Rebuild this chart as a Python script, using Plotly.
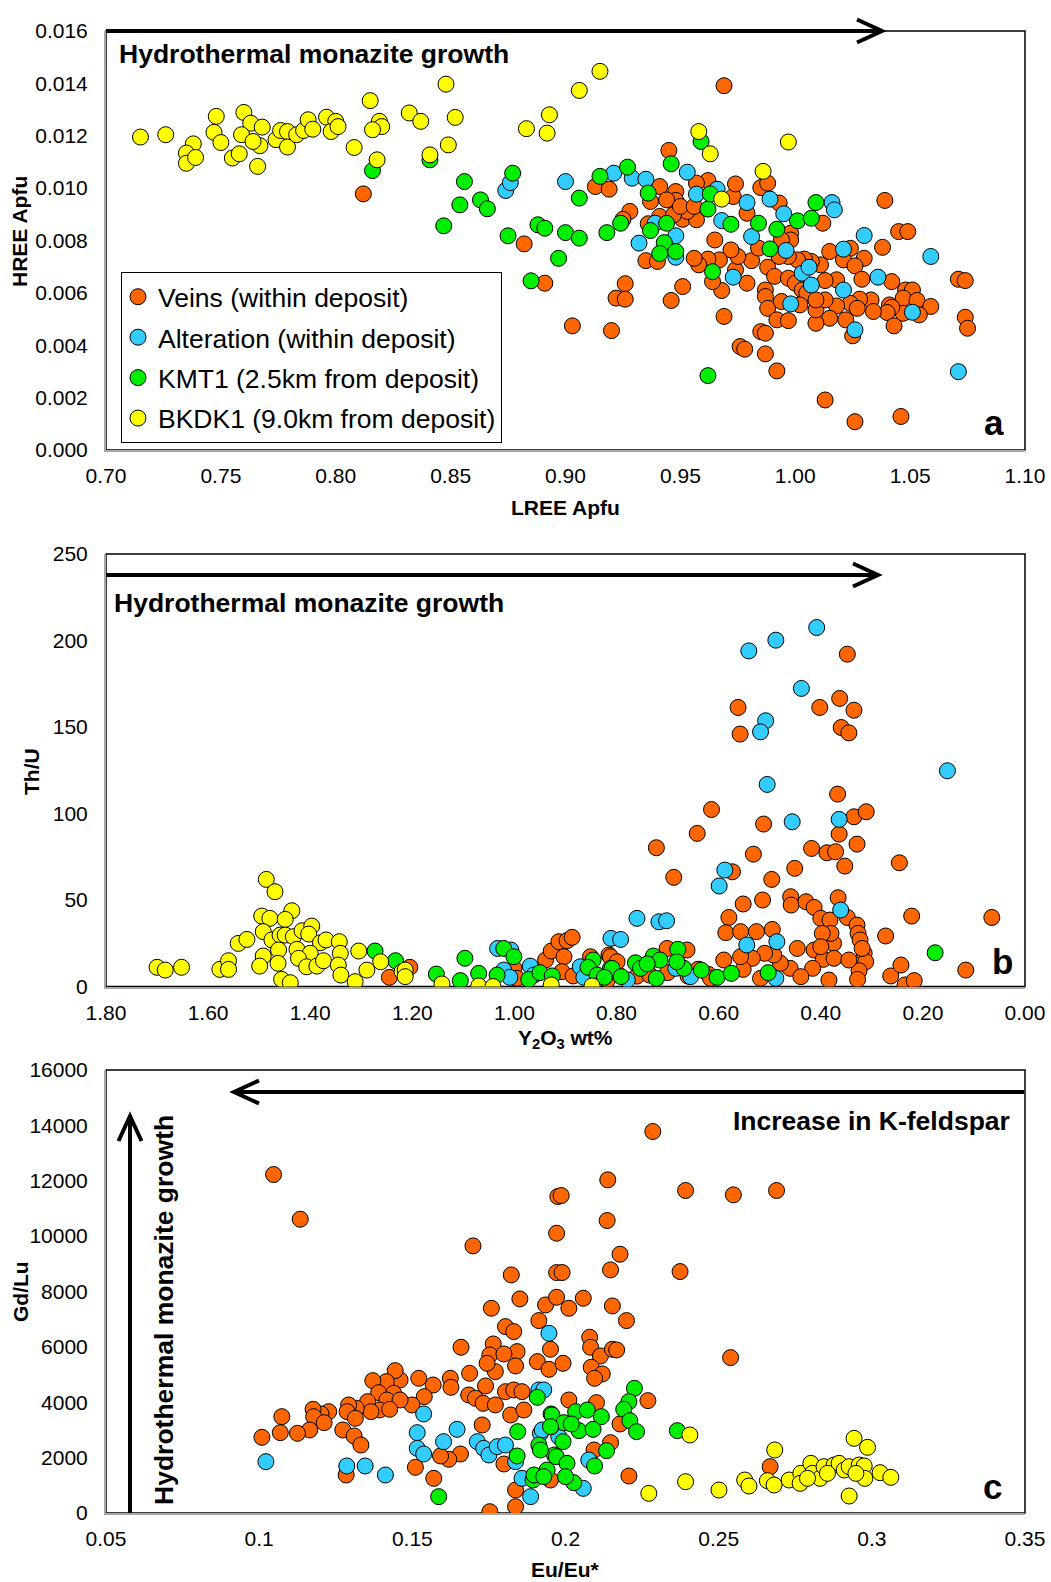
import plotly.graph_objects as go

W, H = 1051, 1582

# ---------------- data ----------------
series_names = ["Veins (within deposit)", "Alteration (within deposit)",
                "KMT1 (2.5km from deposit)", "BKDK1 (9.0km from deposit)"]
series_colors = ["#FF6600", "#33CCFF", "#00EE00", "#FFFF00"]

# Panel a: (LREE Apfu, HREE Apfu)
veins_a = [(0.812,0.00978),(0.882,0.00787),(0.891,0.00637),(0.969,0.01391),(0.945,0.01144),(0.913,0.01006),(0.919,0.00996),(0.928,0.00911),(0.925,0.00881),(0.941,0.01006),(0.937,0.00949),(0.948,0.00987),(0.948,0.00953),(0.951,0.00881),(0.957,0.00879),(0.962,0.01029),(0.957,0.01019),(0.953,0.00911),(0.944,0.00955),(0.973,0.00968),(0.974,0.01016),(0.985,0.01002),(0.988,0.01019),(0.979,0.00904),(0.993,0.00943),(0.998,0.00828),(0.998,0.00802),(1.012,0.00866),(1.039,0.00953),(1.045,0.00834),(1.049,0.00834),(1.038,0.00774),(1.015,0.00758),(1.024,0.0077),(1.030,0.00732),(1.021,0.00726),(1.026,0.00703),(1.029,0.00652),(1.042,0.00643),(1.048,0.00611),(1.051,0.00611),(1.047,0.0058),(1.053,0.00571),(1.059,0.00548),(1.054,0.00516),(1.047,0.00522),(1.041,0.00554),(1.042,0.00545),(1.040,0.00525),(1.043,0.00474),(1.033,0.00573),(1.034,0.00529),(1.028,0.00576),(1.024,0.0056),(1.027,0.00541),(1.025,0.00436),(1.022,0.00497),(1.018,0.0055),(1.015,0.00503),(1.009,0.00484),(1.009,0.00535),(1.013,0.00573),(1.018,0.0065),(1.013,0.00647),(1.011,0.00707),(1.007,0.0072),(1.004,0.00729),(1.001,0.00726),(0.997,0.00739),(0.993,0.00739),(0.988,0.00698),(0.991,0.00663),(0.997,0.00656),(1.000,0.00637),(1.003,0.00611),(1.005,0.00599),(1.002,0.00554),(1.009,0.00573),(0.987,0.00611),(0.987,0.00586),(0.988,0.00541),(0.994,0.00567),(0.992,0.00497),(0.997,0.00494),(0.985,0.00452),(0.987,0.00446),(0.976,0.00395),(0.978,0.00385),(0.987,0.00367),(0.992,0.00302),(1.013,0.00191),(1.026,0.00108),(1.046,0.00128),(1.071,0.00652),(1.074,0.00647),(1.074,0.00507),(1.075,0.00465),(0.969,0.0051),(0.979,0.00637),(0.974,0.00688),(0.981,0.00723),(0.975,0.00739),(0.972,0.00764),(0.967,0.00726),(0.968,0.00609),(0.964,0.00643),(0.965,0.00802),(0.962,0.00729),(0.958,0.00707),(0.956,0.00732),(0.951,0.00624),(0.946,0.00571),(0.926,0.00635),(0.922,0.0058),(0.926,0.00576),(0.903,0.00474),(0.920,0.00456),(0.935,0.00723),(0.940,0.0072),(0.936,0.00864),(0.941,0.00892),(0.947,0.00898),(0.950,0.0093),(0.956,0.0093),(0.984,0.00771),(0.994,0.00802)]
alteration_a = [(0.874,0.00991),(0.876,0.01021),(0.900,0.01025),(0.921,0.01057),(0.929,0.01038),(0.935,0.01034),(0.953,0.01061),(0.957,0.00977),(0.966,0.00996),(0.968,0.00876),(0.979,0.00945),(0.989,0.00958),(0.995,0.00902),(0.981,0.00815),(0.948,0.00818),(0.939,0.00866),(0.932,0.0079),(0.948,0.00736),(0.996,0.00762),(0.973,0.0066),(1.003,0.00675),(1.006,0.00698),(1.007,0.0063),(1.016,0.00945),(1.017,0.00917),(1.021,0.00767),(1.030,0.00819),(1.021,0.00611),(0.998,0.00558),(1.036,0.0066),(1.026,0.00459),(1.051,0.00526),(1.059,0.00739),(1.071,0.00299)]
kmt1_a = [(0.816,0.01067),(0.841,0.01108),(0.856,0.01025),(0.854,0.00936),(0.863,0.00955),(0.866,0.00921),(0.847,0.00856),(0.877,0.01057),(0.875,0.00818),(0.888,0.0086),(0.891,0.00847),(0.900,0.0083),(0.897,0.00732),(0.885,0.00646),(0.906,0.00809),(0.906,0.00962),(0.915,0.01045),(0.927,0.0108),(0.918,0.0083),(0.924,0.00866),(0.936,0.00981),(0.937,0.00838),(0.944,0.00866),(0.943,0.00792),(0.941,0.0075),(0.948,0.00758),(0.946,0.01093),(0.959,0.01178),(0.962,0.0092),(0.963,0.00978),(0.972,0.00862),(0.984,0.00866),(0.992,0.00843),(0.989,0.00768),(1.001,0.00875),(1.007,0.00885),(1.009,0.00945),(0.964,0.00681),(0.962,0.00284)]
bkdk1_a = [(0.715,0.01195),(0.726,0.01204),(0.738,0.01169),(0.735,0.01134),(0.735,0.01095),(0.739,0.01117),(0.748,0.01274),(0.747,0.01213),(0.750,0.01174),(0.760,0.01289),(0.763,0.01248),(0.759,0.01204),(0.755,0.01115),(0.758,0.01131),(0.766,0.01083),(0.767,0.01162),(0.764,0.01178),(0.768,0.01233),(0.774,0.01185),(0.776,0.0122),(0.779,0.01216),(0.779,0.01157),(0.783,0.01204),(0.786,0.0122),(0.788,0.01261),(0.790,0.01225),(0.796,0.01271),(0.800,0.01255),(0.798,0.01216),(0.801,0.01235),(0.808,0.01155),(0.815,0.01334),(0.819,0.01255),(0.820,0.01235),(0.816,0.01223),(0.818,0.01108),(0.832,0.01287),(0.837,0.01255),(0.848,0.01397),(0.852,0.0127),(0.849,0.01165),(0.841,0.01127),(0.883,0.01227),(0.893,0.0128),(0.892,0.0121),(0.906,0.01373),(0.915,0.01446),(0.958,0.01216),(0.963,0.01131),(0.997,0.01176),(0.986,0.01064),(0.968,0.00958)]

# Panel b: (Y2O3 wt%, Th/U)
veins_b = [(1.245,5.3),(1.205,11.1),(1.001,10.5),(0.995,4.7),(0.939,15.3),(0.928,20.5),(0.913,25.9),(0.897,26.5),(0.887,28.4),(0.903,17.2),(0.907,8.6),(0.885,6.1),(0.851,17.2),(0.815,18.2),(0.818,3.7),(0.80,8),(0.76,6),(0.74,12),(0.70,8),(0.66,6),(0.64,10),(0.62,7),
           (0.348,192.1),(0.562,161.3),(0.558,145.9),(0.402,161.3),(0.363,166.5),(0.335,159.7),(0.360,149.7),(0.345,146.6),(0.367,111.2),(0.335,98.1),(0.311,101.0),(0.329,82.3),(0.364,88.1),(0.418,79.8),(0.388,77.3),(0.371,77.9),(0.353,69.6),(0.614,102.3),(0.642,88.5),(0.722,80.2),(0.688,63.1),(0.532,76.5),(0.512,93.9),(0.573,66.3),(0.496,61.9),(0.451,68.3),(0.246,71.5),(0.222,40.7),(0.065,39.9),(0.273,29.2),(0.116,9.5),(0.263,6.1),(0.243,12.4),(0.235,0.9),(0.217,3.4),(0.552,47.7),(0.580,39.9),(0.586,31.1),(0.557,31.7),(0.526,31.7),(0.514,50.0),(0.495,33.0),(0.459,51.9),(0.458,47.1),(0.429,49.0),(0.413,45.7),(0.400,39.4),(0.382,38.4),(0.366,51.3),(0.348,39.9),(0.329,35.5),(0.327,30.7),(0.323,26.9),(0.315,19.2),(0.312,14.3),(0.325,9.1),(0.328,4.1),(0.375,24.9),(0.380,30.7),(0.397,30.7),(0.413,21.1),(0.395,15.7),(0.374,16.3),(0.384,3.7),(0.416,10.5),(0.446,22.0),(0.460,10.5),(0.479,13.4),(0.492,18.2),(0.510,19.2),(0.534,16.3),(0.552,9.9),(0.557,17.2),(0.590,15.3),(0.616,4.7),(0.662,21.1),(0.701,22.0),(0.812,17.2),(0.799,14.3),(0.735,6.6),(0.518,4.7),(0.439,5.7),(0.345,15.3),(0.319,22.0),(0.400,23.0)]
alteration_b = [(1.033,22.0),(1.007,21.1),(1.021,9.5),(1.009,5.3),(0.969,11.8),(0.962,6.6),(0.871,11.4),(0.864,5.3),(0.811,27.8),
                (0.408,207.5),(0.488,200.2),(0.541,194.0),(0.438,172.3),(0.508,153.6),(0.518,147.2),(0.152,124.7),(0.505,116.8),(0.456,95.2),(0.364,96.6),(0.588,67.3),(0.599,58.1),(0.361,44.2),(0.760,39.4),(0.717,37.4),(0.702,38.0),(0.792,27.2),(0.545,24.0),(0.486,25.9),(0.684,10.5),(0.655,5.7),(0.488,4.7),(0.779,3.8)]
kmt1_b = [(1.273,20.5),(1.233,14.9),(1.153,7.2),(1.106,3.4),(1.097,16.3),(1.070,7.6),(1.034,6.6),(1.021,22.0),(1.001,17.2),(0.972,4.1),(0.950,8.0),(0.926,6.1),(0.846,15.3),(0.856,11.1),(0.838,6.6),(0.812,10.5),
          (0.176,19.5),(0.680,21.5),(0.728,17.6),(0.715,15.3),(0.763,13.7),(0.753,10.5),(0.740,13.1),(0.809,10.5),(0.791,5.7),(0.722,4.7),(0.668,10.5),(0.634,9.5),(0.603,5.3),(0.575,7.6),(0.503,8.0),(0.682,14.3),(0.824,5.3)]
bkdk1_b = [(1.700,11.1),(1.684,9.5),(1.652,11.1),(1.577,9.9),(1.560,14.9),(1.560,9.9),(1.541,24.9),(1.524,27.2),(1.486,61.9),(1.469,54.8),(1.495,40.7),(1.479,39.4),(1.436,43.8),(1.449,38.8),(1.492,31.7),(1.475,26.9),(1.459,29.7),(1.449,29.7),(1.433,28.8),(1.416,32.2),(1.397,34.9),(1.403,30.3),(1.380,25.3),(1.369,26.9),(1.426,21.5),(1.400,19.2),(1.462,21.1),(1.492,17.6),(1.499,11.8),(1.463,13.4),(1.423,16.3),(1.407,11.4),(1.387,11.8),(1.374,14.9),(1.456,4.1),(1.439,2.2),(1.343,25.9),(1.341,19.2),(1.345,12.4),(1.340,6.6),(1.312,2.8),(1.305,20.5),(1.289,9.5),(1.262,14.3),(1.220,8.6),(1.214,9.5),(1.214,5.7),(1.142,1.5),(1.070,0.3),(1.042,0.0),(0.928,0.9),(0.848,0.3)]

# Panel c: (Eu/Eu*, Gd/Lu)
veins_c = [(0.1047,12225),(0.1134,10611),(0.1698,9647),(0.1823,8599),(0.1851,7732),(0.1758,7395),(0.1913,6949),(0.1935,7515),(0.1804,6732),(0.1831,6552),(0.1659,5986),(0.1764,6106),(0.1753,5709),(0.1842,5829),(0.1951,5913),(0.1799,5745),(0.1837,5311),(0.1771,5106),(0.1687,5046),(0.1908,5468),(0.1946,5190),(0.1744,5407),(0.1739,4588),(0.1804,4383),(0.1831,4444),(0.1858,4383),(0.1684,4263),(0.1706,4143),(0.1731,3962),(0.1771,3902),(0.1821,3540),(0.1864,3721),(0.1728,3179),(0.1657,2131),(0.1619,1939),(0.1592,2059),(0.1510,1650),(0.1570,1252),(0.1799,1770),(0.1837,830),(0.1753,48),(0.1837,228),(0.1624,4865),(0.1626,4540),(0.1568,4624),(0.1521,4865),(0.1539,4203),(0.1499,3902),(0.1460,4805),(0.1444,5142),(0.1415,4745),(0.1371,4781),(0.1390,4347),(0.1439,4323),(0.1417,4082),(0.1460,4082),(0.1393,3721),(0.1426,3745),(0.1354,4022),(0.1365,3661),(0.1317,3781),(0.1292,3902),(0.1287,3661),(0.1314,3420),(0.1273,2998),(0.1310,2782),(0.1332,2456),(0.1284,1372),(0.1227,3661),(0.1202,3577),(0.1176,3745),(0.1178,3480),(0.1212,3263),(0.1165,2998),(0.1125,2878),(0.1069,2902),(0.1074,3480),(0.1009,2733),(0.1975,11430),(0.1971,10105),(0.1971,8684),(0.1971,7792),
           (0.2285,13779),(0.2138,12032),(0.1986,11466),(0.2392,11647),(0.2548,11490),(0.2689,11647),(0.2136,10563),(0.2178,9346),(0.2147,8780),(0.1989,8684),(0.2374,8720),(0.2058,7756),(0.2011,7395),(0.2153,7479),(0.2199,6949),(0.2079,6347),(0.2082,5985),(0.2114,5672),(0.2153,5913),(0.2167,5889),(0.1992,5408),(0.2084,5263),(0.2120,5022),(0.2095,4865),(0.2539,5612),(0.2269,4058),(0.2101,3986),(0.2011,4082),(0.2178,3215),(0.2147,2541),(0.2093,2276),(0.2207,1336),(0.2668,1673),(0.1951,1192)]
alteration_c = [(0.1022,1854),(0.1286,1698),(0.1346,1698),(0.1412,1372),(0.1537,3577),(0.1516,2902),(0.1516,2336),(0.1537,2131),(0.1602,2577),(0.1646,3022),(0.1712,2577),(0.1733,2336),(0.1750,2095),(0.1777,2396),(0.1804,2456),(0.1946,6491),(0.1913,4444),(0.1918,2878),(0.1837,1854),(0.1858,1252),(0.1886,590),(0.1929,4444),(0.1924,2998),(0.1978,2757),(0.2076,1914),(0.2058,890)]
kmt1_c = [(0.1586,590),(0.1908,4178),(0.1953,3577),(0.1953,3119),(0.1844,2938),(0.1913,2456),(0.1842,2059),(0.1964,2095),(0.1894,1192),(0.1897,1372),(0.1940,1553),
          (0.2225,4504),(0.2207,4022),(0.2190,3745),(0.2210,3335),(0.2232,2938),(0.2365,2974),(0.2033,3661),(0.2071,3721),(0.2117,3480),(0.1956,3540),(0.1995,3263),(0.2044,2974),(0.2090,3022),(0.2019,3215),(0.1951,3119),(0.1992,2577),(0.1970,2035),(0.2005,1794),(0.2134,2252),(0.2095,1697),(0.2027,1095),(0.2000,1312),(0.1918,2276),(0.1929,1312)]
bkdk1_c = [(0.2406,2818),(0.2683,2276),(0.2942,2697),(0.2986,2372),(0.2272,710),(0.2392,1131),(0.2501,830),(0.2585,1192),(0.2599,975),(0.2659,1168),(0.2681,1011),(0.2730,1192),(0.2768,1432),(0.2766,1071),(0.2801,1794),(0.2806,1432),(0.2831,1252),(0.2844,1673),(0.2877,1733),(0.2893,1794),(0.2910,1553),(0.2926,1673),(0.2959,1733),(0.2975,1698),(0.2977,1252),(0.3027,1456),(0.3062,1288),(0.2926,614),(0.2948,1432),(0.2855,1432),(0.2790,1252)]

# tick labels
a_xticks = [0.70, 0.75, 0.80, 0.85, 0.90, 0.95, 1.00, 1.05, 1.10]
a_yticks = [0.000, 0.002, 0.004, 0.006, 0.008, 0.010, 0.012, 0.014, 0.016]
b_xticks = [1.80, 1.60, 1.40, 1.20, 1.00, 0.80, 0.60, 0.40, 0.20, 0.00]
b_yticks = [0, 50, 100, 150, 200, 250]
c_xticks = [0.05, 0.1, 0.15, 0.2, 0.25, 0.3, 0.35]
c_xticktext = ["0.05", "0.1", "0.15", "0.2", "0.25", "0.3", "0.35"]
c_yticks = [0, 2000, 4000, 6000, 8000, 10000, 12000, 14000, 16000]

# ---------------- figure ----------------
TEXT_FAMILY = "Liberation Sans, Arial, sans-serif"
TICK_FONT = dict(family=TEXT_FAMILY, size=21, color="#000")

fig = go.Figure()

panels = [
    ("x", "y", [veins_a, alteration_a, kmt1_a, bkdk1_a], True),
    ("x2", "y2", [veins_b, alteration_b, kmt1_b, bkdk1_b], False),
    ("x3", "y3", [veins_c, alteration_c, kmt1_c, bkdk1_c], False),
]
for xa, ya, sets, show in panels:
    for i, pts in enumerate(sets):
        fig.add_trace(go.Scatter(
            x=[p[0] for p in pts], y=[p[1] for p in pts],
            mode="markers", xaxis=xa, yaxis=ya,
            name=series_names[i], legendgroup=series_names[i],
            showlegend=show,
            marker=dict(size=16, color=series_colors[i],
                        line=dict(color="#000", width=1)),
        ))

def px(x):
    return x / W

def py(y):
    return 1 - y / H

XDOM = [px(106), px(1025)]
DOMS = {"a": [py(450), py(31)], "b": [py(986.5), py(554)], "c": [py(1513), py(1070)]}

axis_common = dict(showgrid=False, zeroline=False, showline=True, linecolor="#A6A6A6",
                   linewidth=2, ticks="", tickfont=TICK_FONT, domain=XDOM,
                   automargin=False, ticklabelstandoff=6)
yaxis_common = dict(showgrid=False, zeroline=False, showline=True, linecolor="#A6A6A6",
                    linewidth=2, ticks="", tickfont=TICK_FONT, automargin=False,
                    ticklabelstandoff=12)

fig.update_layout(
    width=W, height=H, margin=dict(l=0, r=0, t=0, b=0, pad=0, autoexpand=False),
    paper_bgcolor="white", plot_bgcolor="white",
    xaxis=dict(axis_common, anchor="y", range=[0.70, 1.10], tickvals=a_xticks,
               tickformat=".2f"),
    yaxis=dict(yaxis_common, anchor="x", domain=DOMS["a"], range=[0, 0.016],
               tickvals=a_yticks, tickformat=".3f"),
    xaxis2=dict(axis_common, anchor="y2", range=[1.80, 0.00], tickvals=b_xticks,
                tickformat=".2f"),
    yaxis2=dict(yaxis_common, anchor="x2", domain=DOMS["b"], range=[0, 250],
                tickvals=b_yticks),
    xaxis3=dict(axis_common, anchor="y3", range=[0.05, 0.35], tickvals=c_xticks,
                ticktext=c_xticktext),
    yaxis3=dict(yaxis_common, anchor="x3", domain=DOMS["c"], range=[0, 16000],
                tickvals=c_yticks, tickformat="d"),
    legend=dict(x=px(121), y=py(272), xanchor="left", yanchor="top",
                bgcolor="white", bordercolor="#000", borderwidth=1,
                font=dict(family=TEXT_FAMILY, size=26.5, color="#000"),
                tracegroupgap=3, itemwidth=30, indentation=-4),
    showlegend=True,
)

shapes = []
# panel frames (black), axis lines drawn on top in grey
for k in ["a", "b", "c"]:
    shapes.append(dict(type="rect", xref="paper", yref="paper", layer="below",
                       x0=XDOM[0], x1=XDOM[1], y0=DOMS[k][0], y1=DOMS[k][1],
                       line=dict(color="#000", width=1.5)))

def arrow(x0, y0, x1, y1, head=(25, 11.5)):
    """Arrow in figure pixel coords from (x0,y0) to tip (x1,y1)."""
    out = [dict(type="line", xref="paper", yref="paper", x0=px(x0), y0=py(y0),
                x1=px(x1), y1=py(y1), line=dict(color="#000", width=4))]
    L, Wd = head
    dx, dy = x1 - x0, y1 - y0
    n = (dx * dx + dy * dy) ** 0.5
    ux, uy = dx / n, dy / n
    bx, by = x1 - ux * L, y1 - uy * L
    ax1, ay1 = bx - uy * Wd, by + ux * Wd
    ax2, ay2 = bx + uy * Wd, by - ux * Wd
    path = f"M {px(ax1)},{py(ay1)} L {px(x1)},{py(y1)} L {px(ax2)},{py(ay2)}"
    out.append(dict(type="path", xref="paper", yref="paper", path=path,
                    line=dict(color="#000", width=4)))
    return out

shapes += arrow(106, 31, 882, 31)
shapes += arrow(106, 575, 878, 575)
shapes += arrow(1024, 1092, 234, 1092)
shapes += arrow(130, 1513, 130, 1116)
fig.update_layout(shapes=shapes)

ann = []
def text(x, y, s, size, xanchor="left", angle=0):
    ann.append(dict(xref="paper", yref="paper", x=px(x), y=py(y), text=s,
                    showarrow=False, xanchor=xanchor, yanchor="middle", textangle=angle,
                    font=dict(family=TEXT_FAMILY, size=size, color="#000")))

text(117, 54, "<b>Hydrothermal monazite growth</b>", 26.5)
text(112, 603, "<b>Hydrothermal monazite growth</b>", 26.5)
text(1012, 1121, "<b>Increase in K-feldspar</b>", 26.5, xanchor="right")
text(164, 1310, "<b>Hydrothermal monazite growth</b>", 26.5, xanchor="center", angle=-90)
text(994, 422, "<b>a</b>", 35, xanchor="center")
text(1002, 961, "<b>b</b>", 35, xanchor="center")
text(992, 1486, "<b>c</b>", 35, xanchor="center")
# axis titles
text(565, 507, "<b>LREE Apfu</b>", 21, xanchor="center")
text(20, 232, "<b>HREE Apfu</b>", 21, xanchor="center", angle=-90)
text(565, 1039, "<b>Y<sub>2</sub>O<sub>3</sub> wt%</b>", 21, xanchor="center")
text(31, 772, "<b>Th/U</b>", 21, xanchor="center", angle=-90)
text(565, 1569, "<b>Eu/Eu*</b>", 21, xanchor="center")
text(20, 1292, "<b>Gd/Lu</b>", 21, xanchor="center", angle=-90)
fig.update_layout(annotations=ann)

# remove the browser's default page margin so the figure fills the window exactly
fig.write_html("out.html", config={"displayModeBar": False},
               post_script="document.body.style.margin='0px';document.body.style.overflow='hidden';")
